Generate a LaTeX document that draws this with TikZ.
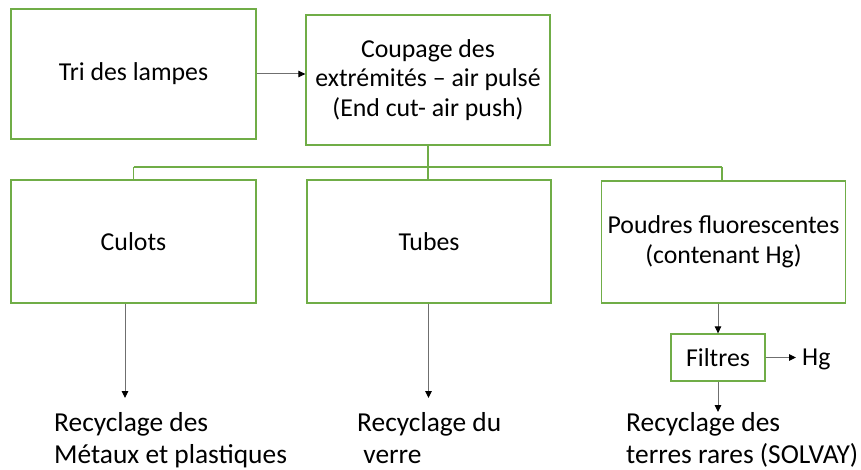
\documentclass[tikz,border=0pt]{standalone}
\usepackage{fontspec}
\setmainfont{Carlito}
\usetikzlibrary{arrows.meta}
\definecolor{boxgreen}{HTML}{70AD47}
\definecolor{linegray}{HTML}{6F6F6F}
\begin{document}
\begin{tikzpicture}[x=1pt,y=-1pt,
  stagebox/.style={draw=boxgreen,line width=1.3pt,fill=white,rectangle,align=center,
    inner sep=0pt,font=\fontsize{25.8}{29.5}\selectfont},
  outlabel/.style={align=left,anchor=north west,inner sep=0pt,font=\fontsize{27.4}{32}\selectfont},
  flow/.style={draw=linegray,line width=1pt,-{Triangle[length=7pt,width=6.5pt,black]}},
  bus/.style={draw=boxgreen,line width=1.3pt}]
\useasboundingbox (0,0) rectangle (861,470);
\fill[white] (0,0) rectangle (861,470);

% top row
\node[stagebox,minimum width=245pt,minimum height=130pt] (tri) at (133.5,74) {Tri des lampes};
\node[stagebox,minimum width=244pt,minimum height=130pt] (coupe) at (428,80)
  {Coupage des\\extrémités – air pulsé\\(End cut- air push)};

% second row
\node[stagebox,minimum width=245pt,minimum height=123pt] (culots) at (133.5,241.5) {Culots};
\node[stagebox,minimum width=244pt,minimum height=123pt] (tubes) at (429,241.5) {Tubes};
\node[stagebox,minimum width=244pt,minimum height=122pt] (poudres) at (723.5,242)
  {Poudres fluorescentes\\(contenant Hg)};

% filter stage
\node[stagebox,minimum width=94pt,minimum height=47pt] (filtres) at (718,357.5) {Filtres};
\node[inner sep=0pt,anchor=base west,font=\fontsize{25.8}{29.5}\selectfont] (hg) at (802,365) {Hg};

% outputs (first baseline at y = 431.5)
\node[outlabel] (metaux) at (54,409) {\strut Recyclage des\\\strut Métaux et plastiques};
\node[outlabel] (verre) at (357,409) {\strut Recyclage du\\\strut\ verre};
\node[outlabel] (terres) at (626,409) {\strut Recyclage des\\\strut terres rares (SOLVAY)};

% distribution bus
\coordinate (bl) at (133.5,167);
\coordinate (bm) at (428,167);
\coordinate (br) at (722,167);
\draw[bus] (coupe.south) -- (bm);
\draw[bus] (bl) -- (br);
\draw[bus] (bl) -- (bl |- culots.north);
\draw[bus] (bm) -- (bm |- tubes.north);
\draw[bus] (br) -- (br |- poudres.north);

% flows
\draw[flow] (tri.east) -- (coupe.west |- tri.east);
\coordinate (c1) at (125,304);
\coordinate (c1e) at (125,398);
\draw[flow] (c1) -- (c1e);
\coordinate (t1e) at (428.5,398);
\draw[flow] (tubes.south -| t1e) -- (t1e);
\draw[flow] (poudres.south -| filtres.north) -- (filtres.north);
\coordinate (hgin) at (796,357.5);
\draw[flow] (filtres.east) -- (hgin);
\coordinate (f1e) at (718,412);
\draw[flow] (filtres.south) -- (f1e);
\end{tikzpicture}
\end{document}
